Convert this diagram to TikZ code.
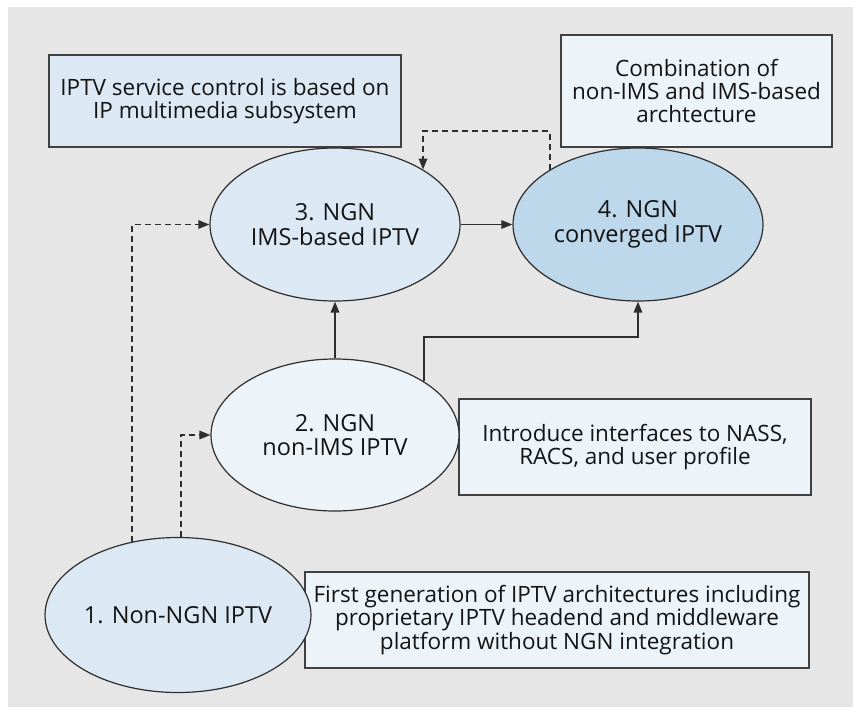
\documentclass[tikz,border=0pt]{standalone}
\usepackage{fontspec}
\setmainfont{Open Sans}
\usetikzlibrary{shapes.geometric,arrows.meta,calc}

\definecolor{pagegray}{HTML}{E6E6E6}
\definecolor{linegray}{HTML}{2E2E2E}
\definecolor{boxline}{HTML}{404040}
\definecolor{paleblue}{HTML}{DCE9F5}
\definecolor{whiteblue}{HTML}{ECF4FA}
\definecolor{midblue}{HTML}{BDD7EB}
\definecolor{inkcol}{HTML}{141414}

\tikzset{
  stage/.style={ellipse, draw=linegray, line width=1.2pt, inner sep=0pt,
    minimum width=250pt, minimum height=153pt, align=center,
    text=inkcol, font=\fontsize{23.5}{24.5}\selectfont},
  note/.style={rectangle, draw=boxline, line width=1.5pt, inner sep=0pt,
    align=center, text=inkcol, font=\fontsize{22.5}{22.6}\selectfont},
  link/.style={draw=linegray, line width=1.6pt,
    -{Triangle[length=11pt,width=8.5pt]}},
  hint/.style={link, dash pattern=on 6pt off 4pt},
}

\begin{document}
\begin{tikzpicture}[x=1pt,y=-1pt]
  % page and panel
  \fill[white] (0,0) rectangle (853,707);
  \fill[pagegray] (8,7) rectangle (853,707);
  \useasboundingbox (0,0) rectangle (853,707);

  % explanatory boxes
  \node[note, fill=paleblue, minimum width=352pt, minimum height=92pt]
    (n3) at (225,101) {IPTV service control is based on\\IP multimedia subsystem};
  \node[note, fill=whiteblue, minimum width=271pt, minimum height=112pt]
    (n4) at (696.5,91) {Combination of\\non-IMS and IMS-based\\archtecture};
  \node[note, fill=whiteblue, minimum width=352pt, minimum height=96pt]
    (n2) at (635,447) {Introduce interfaces to NASS,\\RACS, and user profile};
  \node[note, fill=whiteblue, minimum width=504pt, minimum height=96pt]
    (n1) at (557,620) {First generation of IPTV architectures including\\proprietary IPTV headend and middleware\\platform without NGN integration};

  % evolution stages
  \node[stage, fill=paleblue] (e3) at (335,224.5) {3. NGN\\IMS-based IPTV};
  \node[stage, fill=midblue] (e4) at (638,224.5) {4. NGN\\converged IPTV};
  \node[stage, fill=whiteblue, minimum width=248pt, minimum height=152pt]
    (e2) at (335,435) {2. NGN\\non-IMS IPTV};
  \node[stage, fill=paleblue, minimum height=155pt] (e1) at (178,615) {1. Non-NGN IPTV};

  % helper levels for the orthogonal connectors
  \coordinate (topline) at (0,131);
  \coordinate (midline) at (0,337);

  % solid transitions
  \draw[link] (e3.east) -- (e4.west);
  \draw[link] (e2.north) -- (e3.south);
  \draw[link] (e2.31.3) |- (e4.south |- midline) -- (e4.south);

  % dashed transitions
  \draw[hint] (e1.122.7) |- (e3.west);
  \draw[hint] (e1.88.5) |- (e2.west);
  \draw[hint] (e4.148.1) |- (e3.32.7 |- topline) -- (e3.32.7);
\end{tikzpicture}
\end{document}
